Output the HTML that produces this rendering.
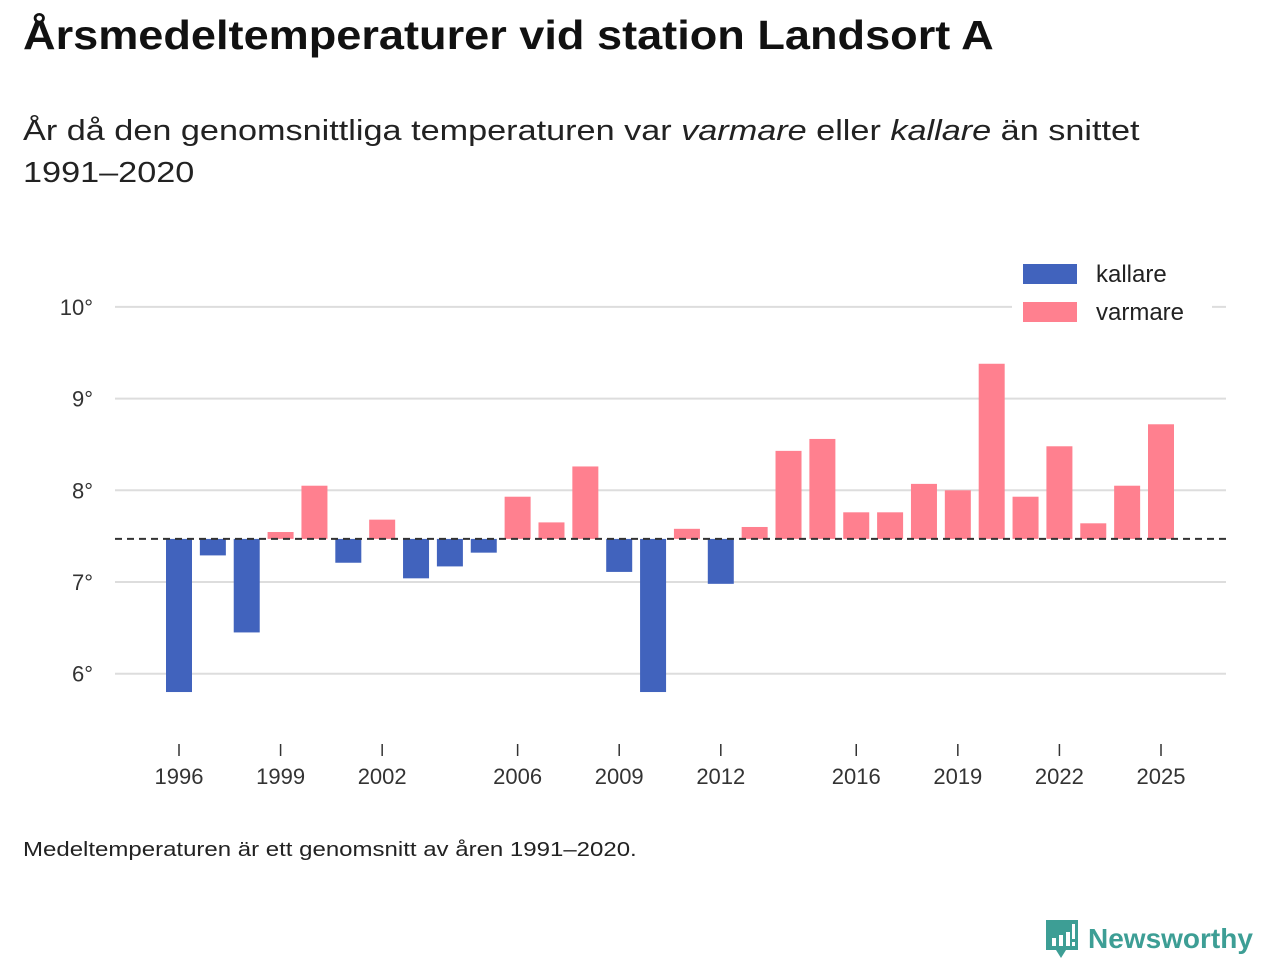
<!DOCTYPE html>
<html><head><meta charset="utf-8"><style>
body{margin:0;width:1280px;height:960px;background:#fff;font-family:"Liberation Sans","DejaVu Sans",sans-serif;color:#111;overflow:hidden;position:relative}
h1{position:absolute;left:23px;top:12px;margin:0;font-size:41px;font-weight:bold;transform:scaleX(1.1);transform-origin:left top;white-space:nowrap}
.sub{position:absolute;left:23px;top:110px;font-size:29px;line-height:42px;color:#222;white-space:nowrap;transform:scaleX(1.18);transform-origin:left top}
.note{position:absolute;left:23px;top:839px;font-size:20px;color:#222;white-space:nowrap;transform:scaleX(1.2);transform-origin:left top}
</style></head><body>
<h1>Årsmedeltemperaturer vid station Landsort A</h1>
<div class="sub">År då den genomsnittliga temperaturen var <i>varmare</i> eller <i>kallare</i> än snittet<br>1991–2020</div>
<svg id="chart" width="1280" height="960" style="position:absolute;left:0;top:0"></svg>
<div class="note">Medeltemperaturen är ett genomsnitt av åren 1991–2020.</div>
<div style="position:absolute;left:1044px;top:918px;display:flex;align-items:center">
<svg width="36" height="42"><path d="M2 2h32v30h-12l-5 8-5-8H2z" fill="#3d9e95"/><rect x="8" y="20" width="4" height="8" fill="#fff"/><rect x="15" y="17" width="4" height="11" fill="#fff"/><rect x="22" y="14" width="4" height="14" fill="#fff"/><rect x="28" y="6" width="3" height="15" fill="#fff"/><rect x="28" y="24" width="3" height="4" fill="#fff"/></svg>
<span style="font-size:28px;font-weight:bold;color:#3d9e95;margin-left:8px">Newsworthy</span></div>
<script>
const years=[1996,1997,1998,1999,2000,2001,2002,2003,2004,2005,2006,2007,2008,2009,2010,2011,2012,2013,2014,2015,2016,2017,2018,2019,2020,2021,2022,2023,2024,2025];
const temps=[5.80,7.29,6.45,7.545,8.05,7.21,7.68,7.04,7.17,7.32,7.93,7.65,8.26,7.11,5.80,7.58,6.98,7.60,8.43,8.56,7.76,7.76,8.07,8.00,9.38,7.93,8.48,7.64,8.05,8.72];
const yTicks=[6,7,8,9,10];
const xTickYears=[1996,1999,2002,2006,2009,2012,2016,2019,2022,2025];
const baseline=7.47;
const NS='http://www.w3.org/2000/svg';
const svg=document.getElementById('chart');
function y(v){return 582-(v-7)*91.7;}
function x(yr){return 179+(yr-1996)*(982/29);}
function mk(t,a){const e=document.createElementNS(NS,t);for(const k in a)e.setAttribute(k,a[k]);svg.appendChild(e);return e;}
yTicks.forEach(v=>{
 const l=mk('line',{x1:115,x2:1226,y1:y(v),y2:y(v),stroke:'#ddd','stroke-width':2});
 
 
 const t=mk('text',{x:93,y:y(v)+8,'text-anchor':'end','font-size':22,fill:'#333'});
 t.textContent=v+'°';
 
 
});
xTickYears.forEach(yr=>{
 const l=mk('line',{x1:x(yr),x2:x(yr),y1:744,y2:756,stroke:'#333','stroke-width':1.5});
 
 
 const t=mk('text',{x:x(yr),y:784,'text-anchor':'middle','font-size':22,fill:'#333'});
 t.textContent=yr;
 
 
});
years.forEach((yr,i)=>{
 const v=temps[i];const top=y(Math.max(v,baseline)),bot=y(Math.min(v,baseline));
 const r=mk('rect',{x:x(yr)-13,y:top,width:26,height:bot-top,fill:v>=baseline?'#ff808f':'#4163bd'});
 
 
});
const bl=mk('line',{x1:115,x2:1226,y1:y(baseline),y2:y(baseline),stroke:'#333','stroke-width':2,'stroke-dasharray':'7,5'});


const lg=mk('rect',{x:1012,y:255,width:200,height:78,fill:'#fff'});


[['kallare','#4163bd',264],['varmare','#ff808f',302]].forEach(([n,c,yy])=>{
 const r=mk('rect',{x:1023,y:yy,width:54,height:20,fill:c});
 
 
 const t=mk('text',{x:1096,y:yy+18,'font-size':24,fill:'#222'});
 t.textContent=n;
 
 
});
</script>
</body></html>
